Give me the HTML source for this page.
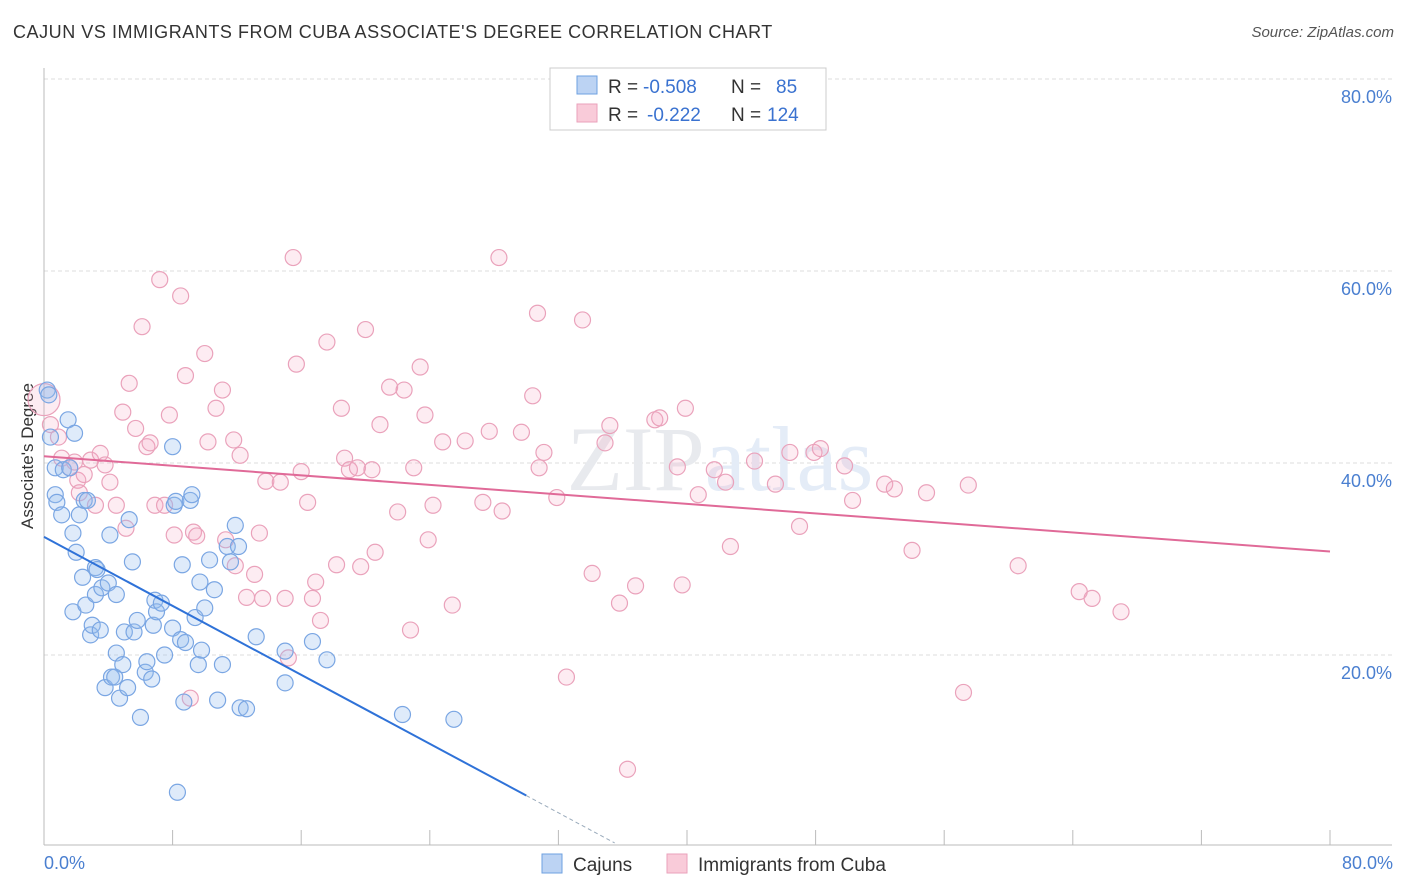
<!DOCTYPE html>
<html><head><meta charset="utf-8">
<style>
body{margin:0;background:#fff;font-family:"Liberation Sans",sans-serif;}
#wrap{position:relative;width:1406px;height:892px;overflow:hidden;}
.title{position:absolute;left:13px;top:22px;font-size:18px;color:#333;letter-spacing:0.55px;}
.source{position:absolute;right:12px;top:24px;font-size:15px;color:#555;font-style:italic;}
</style></head><body>
<div id="wrap">
<div class="title">CAJUN VS IMMIGRANTS FROM CUBA ASSOCIATE'S DEGREE CORRELATION CHART</div>
<div class="source">Source: ZipAtlas.com</div>
<svg id="svg" width="1406" height="892" style="position:absolute;left:0;top:0"></svg>
</div>
<script>
const blueX=[0.2,0.3,0.4,0.7,0.7,0.8,1.1,1.2,1.5,1.6,1.8,1.8,1.9,2.0,2.2,2.4,2.5,2.6,2.7,2.9,3.0,3.2,3.2,3.3,3.5,3.6,3.8,4.0,4.1,4.2,4.4,4.5,4.5,4.7,4.9,5.0,5.2,5.3,5.5,5.6,5.8,6.0,6.3,6.4,6.7,6.8,6.9,7.0,7.3,7.5,8.0,8.1,8.2,8.5,8.6,8.7,8.8,9.1,9.2,9.4,9.6,9.7,9.8,10.0,10.3,10.6,10.8,11.1,11.4,11.6,11.9,12.1,12.2,12.6,13.2,15.0,15.0,16.7,17.6,22.3,25.5,8.3,8.0];
const blueY=[47.6,47.1,42.7,39.5,36.7,35.9,34.6,39.3,44.5,39.5,32.7,24.5,43.1,30.7,34.6,28.1,36.1,25.2,36.1,22.1,23.1,29.1,26.3,28.9,22.6,27.0,16.6,27.5,32.5,17.7,17.7,20.2,26.3,15.5,19.0,22.4,16.6,34.1,29.7,22.4,23.6,13.5,18.2,19.3,17.5,23.1,25.7,24.5,25.4,20.0,22.8,35.6,36.0,21.6,29.4,15.1,21.3,36.1,36.7,23.9,19.0,27.6,20.5,24.9,29.9,26.8,15.3,19.0,31.3,29.7,33.5,31.3,14.5,14.4,21.9,20.4,17.1,21.4,19.5,13.8,13.3,5.7,41.7];
const pinkX=[0,0.4,0.9,1.1,1.6,1.9,2.1,2.2,2.5,2.9,3.2,3.5,3.8,4.1,4.5,4.9,5.1,5.3,5.7,6.1,6.4,6.6,6.9,7.2,7.5,7.8,8.1,8.5,8.8,9.1,9.3,9.5,10.0,10.2,10.7,11.1,11.3,11.8,11.9,12.2,12.6,13.1,13.4,13.6,13.8,14.7,15.0,15.2,15.5,15.7,16.0,16.4,16.7,16.9,17.2,17.6,18.2,18.5,18.7,19.0,19.5,19.7,20.0,20.4,20.6,20.9,21.5,22.0,22.4,22.8,23.0,23.4,23.7,23.9,24.2,24.8,25.4,26.2,27.3,27.7,28.3,28.5,29.7,30.4,30.7,30.8,31.1,31.9,32.5,33.5,34.1,34.9,35.2,35.8,36.3,36.8,38.0,38.3,39.4,39.7,39.9,40.7,41.7,42.4,42.7,44.2,45.5,46.4,47.0,47.9,48.3,49.8,50.3,52.3,52.9,54.0,54.9,57.2,57.5,60.6,64.4,65.2,67.0];
const pinkY=[46.6,44.0,42.7,40.5,39.5,40.1,38.2,36.9,38.8,40.3,35.6,41.0,39.8,38.0,35.6,45.3,33.2,48.3,43.6,54.2,41.7,42.1,35.6,59.1,35.6,45.0,32.5,57.4,49.1,15.5,32.8,32.4,51.4,42.2,45.7,47.6,32.0,42.4,29.3,40.8,26.0,28.4,32.7,25.9,38.1,38.0,25.9,19.7,61.4,50.3,39.1,35.9,25.9,27.6,23.6,52.6,29.4,45.7,40.5,39.3,39.5,29.2,53.9,39.3,30.7,44.0,47.9,34.9,47.6,22.6,39.5,50.0,45.0,32.0,35.6,42.2,25.2,42.3,35.9,43.3,61.4,35.0,43.2,47.0,55.6,39.5,41.1,36.4,17.7,54.9,28.5,42.1,43.9,25.4,8.1,27.2,44.5,44.7,39.6,27.3,45.7,36.7,39.3,38.0,31.3,40.2,37.8,41.1,33.4,41.1,41.5,39.7,36.1,37.8,37.3,30.9,36.9,16.1,37.7,29.3,26.6,25.9,24.5];
const blueTrend=[32.3,-0.898]; // intercept, slope
const blueSolidEnd=30.0, blueDashEnd=35.5;
const pinkTrend=[40.7,-0.124];
const yTicks=[20,40,60,80];
const yTickLabels=["20.0%","40.0%","60.0%","80.0%"];
const xTicks=[0,8,16,24,32,40,48,56,64,72,80];

const NS="http://www.w3.org/2000/svg";
const svg=document.getElementById('svg');
const X0=44,X1=1330,Y0=847,Y1=79;
const sx=v=>X0+(v/80)*(X1-X0);
const sy=v=>Y0-(v/80)*(Y0-Y1);
function mk(tag,attrs,parent){const e=document.createElementNS(NS,tag);for(const k in attrs)e.setAttribute(k,attrs[k]);(parent||svg).appendChild(e);return e;}

yTicks.forEach((t,i)=>{
 const g=mk('line',{x1:X0,x2:1392,y1:sy(t),y2:sy(t),stroke:'#ddd','stroke-dasharray':'4,3'});
 
 
 const l=mk('text',{x:1392,y:sy(t)+24,'text-anchor':'end','font-size':18,fill:'#4a7fd0'});
 l.textContent=yTickLabels[i];
 
 
});
const ax=mk('line',{x1:X0,x2:1392,y1:845,y2:845,stroke:'#bbb'});


const ay=mk('line',{x1:X0,x2:X0,y1:68,y2:845,stroke:'#bbb'});


xTicks.forEach(t=>{
 const k=mk('line',{x1:sx(t),x2:sx(t),y1:830,y2:845,stroke:'#bbb'});
 
 
});
const xl0=mk('text',{x:44,y:869,'font-size':18,fill:'#4a7fd0'});xl0.textContent='0.0%';


const xl1=mk('text',{x:1393,y:869,'font-size':18,fill:'#4a7fd0','text-anchor':'end'});xl1.textContent='80.0%';


const yt=mk('text',{x:33,y:456,'font-size':17,fill:'#333','text-anchor':'middle',transform:'rotate(-90 33 456)'});yt.textContent="Associate's Degree";


const wm=mk('text',{x:720,y:490,'font-size':92,'text-anchor':'middle','font-family':'Liberation Serif'});
const w1=mk('tspan',{fill:'#e8eaee'},wm);w1.textContent='ZIP';
const w2=mk('tspan',{fill:'#e4ecf7'},wm);w2.textContent='atlas';



pinkX.forEach((x,i)=>{
 const c=mk('circle',{cx:sx(x),cy:sy(pinkY[i]),r:i===0?16:8,fill:'rgba(244,170,195,0.22)',stroke:'#eaa2bb','stroke-width':1.2});
 
 
});
blueX.forEach((x,i)=>{
 const c=mk('circle',{cx:sx(x),cy:sy(blueY[i]),r:8,fill:'rgba(150,188,238,0.3)',stroke:'#7aa6e3','stroke-width':1.2});
 
 
});
const pt=mk('line',{x1:sx(0),y1:sy(pinkTrend[0]),x2:sx(80),y2:sy(pinkTrend[0]+pinkTrend[1]*80),stroke:'#e06a98','stroke-width':2});


const bt=mk('line',{x1:sx(0),y1:sy(blueTrend[0]),x2:sx(blueSolidEnd),y2:sy(blueTrend[0]+blueTrend[1]*blueSolidEnd),stroke:'#2f72d8','stroke-width':2});


const bd=mk('line',{x1:sx(blueSolidEnd),y1:sy(blueTrend[0]+blueTrend[1]*blueSolidEnd),x2:sx(blueDashEnd),y2:sy(blueTrend[0]+blueTrend[1]*blueDashEnd),stroke:'#9ab','stroke-width':1,'stroke-dasharray':'4,3'});



const lg=mk('g',{});


mk('rect',{x:550,y:68,width:276,height:62,fill:'#fff',stroke:'#ccc'},lg);
mk('rect',{x:577,y:76,width:20,height:18,fill:'#bcd3f3',stroke:'#6ea0e0'},lg);
mk('rect',{x:577,y:104,width:20,height:18,fill:'#f9cbd9',stroke:'#eaa2bb'},lg);
function lt(x,y,s,c){const t=mk('text',{x:x,y:y,'font-size':19,fill:c},lg);t.textContent=s;return t;}
lt(608,93,'R = ','#333');lt(643,93,'-0.508','#3a72d0');lt(731,93,'N = ','#333');lt(776,93,'85','#3a72d0');
lt(608,121,'R = ','#333');lt(647,121,'-0.222','#3a72d0');lt(731,121,'N = ','#333');lt(767,121,'124','#3a72d0');
const bl=mk('g',{});


mk('rect',{x:542,y:854,width:20,height:19,fill:'#bcd3f3',stroke:'#6ea0e0'},bl);
const t1=mk('text',{x:573,y:871,'font-size':19,fill:'#333'},bl);t1.textContent='Cajuns';
mk('rect',{x:667,y:854,width:20,height:19,fill:'#f9cbd9',stroke:'#eaa2bb'},bl);
const t2=mk('text',{x:698,y:871,'font-size':19,fill:'#333'},bl);t2.textContent='Immigrants from Cuba';
</script>
</body></html>
